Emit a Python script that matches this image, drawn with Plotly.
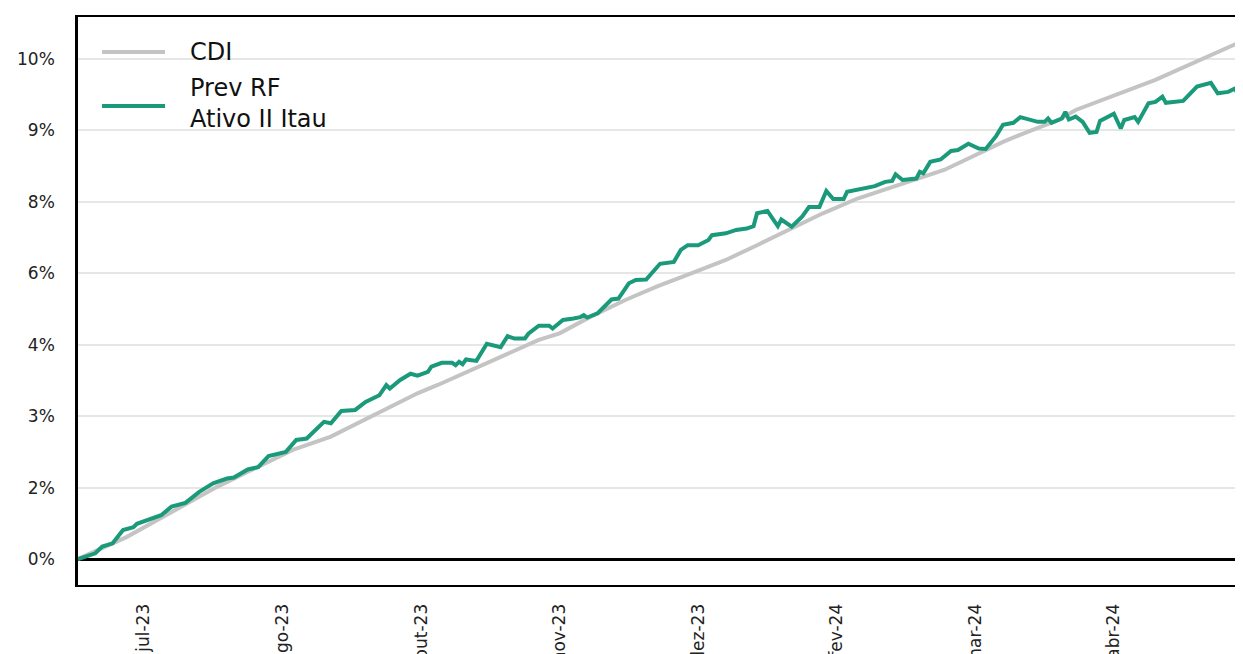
import plotly.graph_objects as go

# ---- Data ----
rf_dates = [
    "2023-06-29", "2023-07-04", "2023-07-06", "2023-07-09", "2023-07-12", "2023-07-15", "2023-07-16",
    "2023-07-20", "2023-07-23", "2023-07-26", "2023-07-30", "2023-08-03", "2023-08-07", "2023-08-11",
    "2023-08-13", "2023-08-17", "2023-08-20", "2023-08-23", "2023-08-28", "2023-08-31", "2023-09-03",
    "2023-09-08", "2023-09-10", "2023-09-13", "2023-09-17", "2023-09-20", "2023-09-24", "2023-09-26",
    "2023-09-27", "2023-09-30", "2023-10-03", "2023-10-05", "2023-10-08", "2023-10-09", "2023-10-12",
    "2023-10-15", "2023-10-16", "2023-10-17", "2023-10-18", "2023-10-19", "2023-10-22", "2023-10-25",
    "2023-10-29", "2023-10-31", "2023-11-02", "2023-11-05", "2023-11-06", "2023-11-09", "2023-11-12",
    "2023-11-13", "2023-11-16", "2023-11-19", "2023-11-21", "2023-11-22", "2023-11-23", "2023-11-26",
    "2023-11-30", "2023-12-02", "2023-12-05", "2023-12-07", "2023-12-10", "2023-12-14", "2023-12-18",
    "2023-12-20", "2023-12-22", "2023-12-25", "2023-12-28", "2023-12-29", "2024-01-02", "2024-01-05",
    "2024-01-08", "2024-01-10", "2024-01-11", "2024-01-14", "2024-01-17", "2024-01-18", "2024-01-21",
    "2024-01-24", "2024-01-26", "2024-01-29", "2024-01-31", "2024-02-02", "2024-02-05", "2024-02-06",
    "2024-02-09", "2024-02-14", "2024-02-17", "2024-02-19", "2024-02-20", "2024-02-22", "2024-02-26",
    "2024-02-27", "2024-02-28", "2024-03-01", "2024-03-04", "2024-03-07", "2024-03-09", "2024-03-12",
    "2024-03-15", "2024-03-17", "2024-03-20", "2024-03-22", "2024-03-25", "2024-03-27", "2024-04-01",
    "2024-04-03", "2024-04-04", "2024-04-05", "2024-04-08", "2024-04-09", "2024-04-10", "2024-04-12",
    "2024-04-14", "2024-04-16", "2024-04-18", "2024-04-19", "2024-04-23", "2024-04-25", "2024-04-26",
    "2024-04-29", "2024-04-30", "2024-05-03", "2024-05-05", "2024-05-07", "2024-05-08", "2024-05-13",
    "2024-05-17", "2024-05-21", "2024-05-23", "2024-05-26", "2024-05-28", "2024-05-29", "2024-05-30",
    "2024-06-02",
]
rf_values = [
    0.00, 0.12, 0.26, 0.33, 0.61, 0.67, 0.74,
    0.85, 0.92, 1.10, 1.18, 1.41, 1.59, 1.69,
    1.71, 1.88, 1.93, 2.16, 2.25, 2.50, 2.53,
    2.88, 2.85, 3.11, 3.13, 3.30, 3.44, 3.65,
    3.58, 3.76, 3.89, 3.85, 3.93, 4.04, 4.12,
    4.12, 4.07, 4.14, 4.09, 4.19, 4.16, 4.52,
    4.45, 4.68, 4.63, 4.63, 4.73, 4.90, 4.90,
    4.84, 5.02, 5.05, 5.08, 5.12, 5.07, 5.16,
    5.45, 5.47, 5.79, 5.86, 5.87, 6.20, 6.24,
    6.49, 6.59, 6.59, 6.70, 6.80, 6.84, 6.91,
    6.94, 6.99, 7.26, 7.31, 6.99, 7.13, 6.98,
    7.19, 7.39, 7.39, 7.73, 7.56, 7.56, 7.71,
    7.76, 7.83, 7.92, 7.94, 8.08, 7.96, 7.99,
    8.13, 8.10, 8.34, 8.39, 8.57, 8.59, 8.72,
    8.62, 8.61, 8.88, 9.12, 9.16, 9.28, 9.18,
    9.18, 9.25, 9.16, 9.25, 9.39, 9.23, 9.29,
    9.18, 8.95, 8.97, 9.20, 9.35, 9.04, 9.22,
    9.28, 9.18, 9.57, 9.60, 9.71, 9.58, 9.62,
    9.92, 10.00, 9.78, 9.81, 9.88, 9.71, 9.65,
    9.70,
]

cdi_dates = [
    "2023-06-29", "2023-07-13", "2023-08-08", "2023-08-30", "2023-09-10", "2023-09-22",
    "2023-10-05", "2023-10-11", "2023-10-26", "2023-11-09", "2023-11-15", "2023-11-24",
    "2023-12-04", "2023-12-13", "2023-12-23", "2024-01-02", "2024-01-11", "2024-01-21",
    "2024-01-30", "2024-02-09", "2024-02-21", "2024-02-28", "2024-03-05", "2024-03-12",
    "2024-03-17", "2024-03-22", "2024-03-28", "2024-04-07", "2024-04-12", "2024-05-05",
    "2024-05-29", "2024-06-02",
]
cdi_values = [
    0.00, 0.46, 1.51, 2.29, 2.57, 3.00,
    3.48, 3.66, 4.14, 4.60, 4.74, 5.09,
    5.44, 5.72, 6.00, 6.28, 6.59, 6.94,
    7.26, 7.57, 7.85, 8.03, 8.17, 8.41,
    8.59, 8.76, 8.94, 9.22, 9.43, 10.06,
    10.84, 10.97,
]

y_tick_vals = [0, 1.5, 3, 4.5, 6, 7.5, 9, 10.5]
y_tick_text = ["0%", "2%", "3%", "4%", "6%", "8%", "9%", "10%"]

x_tick_vals = ["2023-07-18", "2023-08-27", "2023-10-06", "2023-11-15",
               "2023-12-25", "2024-02-03", "2024-03-14", "2024-04-23"]
x_tick_text = ["jul-23", "ago-23", "out-23", "nov-23", "dez-23", "fev-24", "mar-24", "abr-24"]

series_names = ["CDI", "Prev RF<br>Ativo II Itau"]
CDI_COLOR = "#c4c4c4"
RF_COLOR = "#1b9a7b"
FONT = "DejaVu Sans"

fig = go.Figure()
fig.add_trace(go.Scatter(x=cdi_dates, y=cdi_values, mode="lines", name="CDI",
                         line=dict(color=CDI_COLOR, width=4), showlegend=False))
fig.add_trace(go.Scatter(x=rf_dates, y=rf_values, mode="lines", name="Prev RF Ativo II Itau",
                         line=dict(color=RF_COLOR, width=4), showlegend=False))

# custom legend (long line samples like the reference)
legend_rows = [(CDI_COLOR, 0.9384, 0.9384, series_names[0]),
               (RF_COLOR, 0.8433, 0.847, series_names[1])]
for color, yy, ty, label in legend_rows:
    fig.add_shape(type="line", xref="paper", yref="paper", x0=0.0205, x1=0.0742, y0=yy, y1=yy,
                  line=dict(color=color, width=4))
    fig.add_annotation(xref="paper", yref="paper", x=0.0938, y=ty, text=label, showarrow=False,
                       xanchor="left", yanchor="middle", align="left",
                       font=dict(family=FONT, size=24, color="#111111"))

fig.update_layout(
    width=1243, height=654,
    margin=dict(l=70, r=0, t=9, b=77),
    paper_bgcolor="white", plot_bgcolor="white",
    font=dict(family=FONT, size=17, color="#222222"),
    showlegend=False,
)
fig.update_xaxes(
    type="date", range=["2023-06-29", "2024-06-01 14:00"],
    tickmode="array", tickvals=x_tick_vals, ticktext=x_tick_text,
    tickangle=-90, tickfont=dict(family=FONT, size=17, color="#222222"),
    showgrid=False, zeroline=False,
    showline=True, linecolor="black", linewidth=2, mirror=True,
    ticks="outside", ticklen=10, tickcolor="rgba(0,0,0,0)",
    automargin=False,
)
fig.update_yaxes(
    range=[-0.546, 11.382],
    tickmode="array", tickvals=y_tick_vals, ticktext=y_tick_text,
    tickfont=dict(family=FONT, size=17, color="#222222"),
    showgrid=True, gridcolor="#e6e6e6", gridwidth=2,
    zeroline=True, zerolinecolor="black", zerolinewidth=3,
    showline=True, linecolor="black", linewidth=2.5, mirror=True,
    ticks="outside", ticklen=17, tickcolor="rgba(0,0,0,0)",
    automargin=False,
)

fig.write_html("out.html")
